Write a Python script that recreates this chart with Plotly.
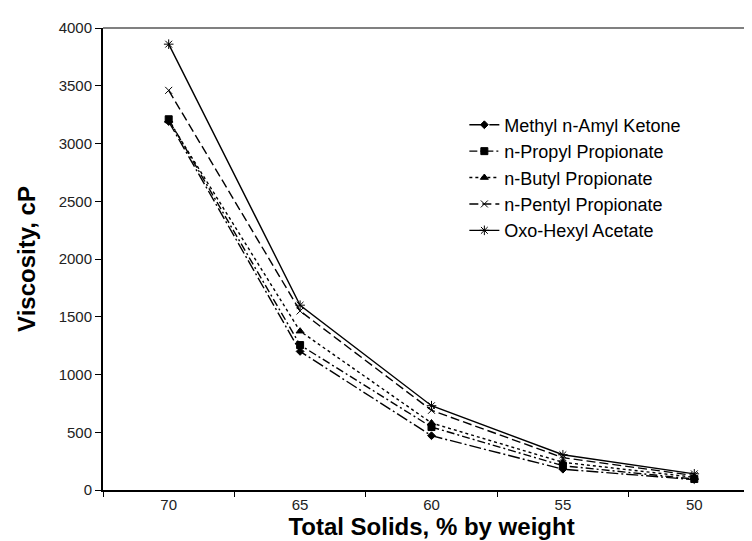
import plotly.graph_objects as go

categories = ["70", "65", "60", "55", "50"]
methyl = [3190, 1200, 470, 180, 90]
propyl = [3210, 1255, 545, 210, 95]
butyl = [3200, 1375, 580, 240, 110]
pentyl = [3460, 1550, 690, 280, 125]
oxo = [3860, 1600, 730, 305, 140]

series_names = ["Methyl n-Amyl Ketone", "n-Propyl Propionate", "n-Butyl Propionate",
                "n-Pentyl Propionate", "Oxo-Hexyl Acetate"]
series_values = [methyl, propyl, butyl, pentyl, oxo]
dashes = ["12px,3px,2px,3px", "8px,3px,2px,3px", "3px,3px", "9px,4px", "solid"]
symbols = ["diamond", "square", "triangle-up", "x-thin-open", "asterisk-open"]
sizes = [6, 7, 7, 7, 8]

xpos = list(range(len(categories)))

fig = go.Figure()
for name, vals, d, s, sz in zip(series_names, series_values, dashes, symbols, sizes):
    fig.add_trace(go.Scatter(
        x=xpos, y=vals, name=name, mode="lines+markers",
        line=dict(color="black", width=1.4, dash=d),
        marker=dict(symbol=s, size=sz, color="black",
                    line=dict(color="black", width=1)),
    ))

font_family = "Liberation Sans, Arial, sans-serif"
fig.update_layout(
    width=752, height=541,
    margin=dict(l=95, r=0, t=20, b=59),
    plot_bgcolor="white", paper_bgcolor="white",
    font=dict(family=font_family, color="black", size=15),
    showlegend=True,
    legend=dict(x=0.55, y=0.83, xanchor="left", yanchor="top",
                font=dict(size=18, family=font_family, color="black"),
                bgcolor="rgba(0,0,0,0)", tracegroupgap=0, itemwidth=30),
    xaxis=dict(
        range=[-0.5, 4.5], tickvals=xpos, ticktext=categories,
        ticks="", showgrid=False, zeroline=False,
        showline=True, linecolor="black", linewidth=2,
        tickfont=dict(size=15, color="#222"),
        minor=dict(tickvals=[-0.5, 0.5, 1.5, 2.5, 3.5], ticks="outside",
                   ticklen=5, tickcolor="black", tickwidth=1, showgrid=False),
        title=dict(text="<b>Total Solids, % by weight</b>", font=dict(size=24), standoff=0),
    ),
    yaxis=dict(
        range=[0, 4000], tickvals=[0, 500, 1000, 1500, 2000, 2500, 3000, 3500, 4000],
        ticks="outside", ticklen=6, tickcolor="black", showgrid=False, zeroline=False,
        showline=True, linecolor="black", linewidth=2,
        tickfont=dict(size=15, color="#222"),
        title=dict(text="<b>Viscosity, cP</b>", font=dict(size=24), standoff=16),
    ),
    shapes=[dict(type="line", xref="paper", yref="paper", x0=0, x1=1, y0=1, y1=1,
                 line=dict(color="gray", width=2))],
)

fig.write_html("out.html")
